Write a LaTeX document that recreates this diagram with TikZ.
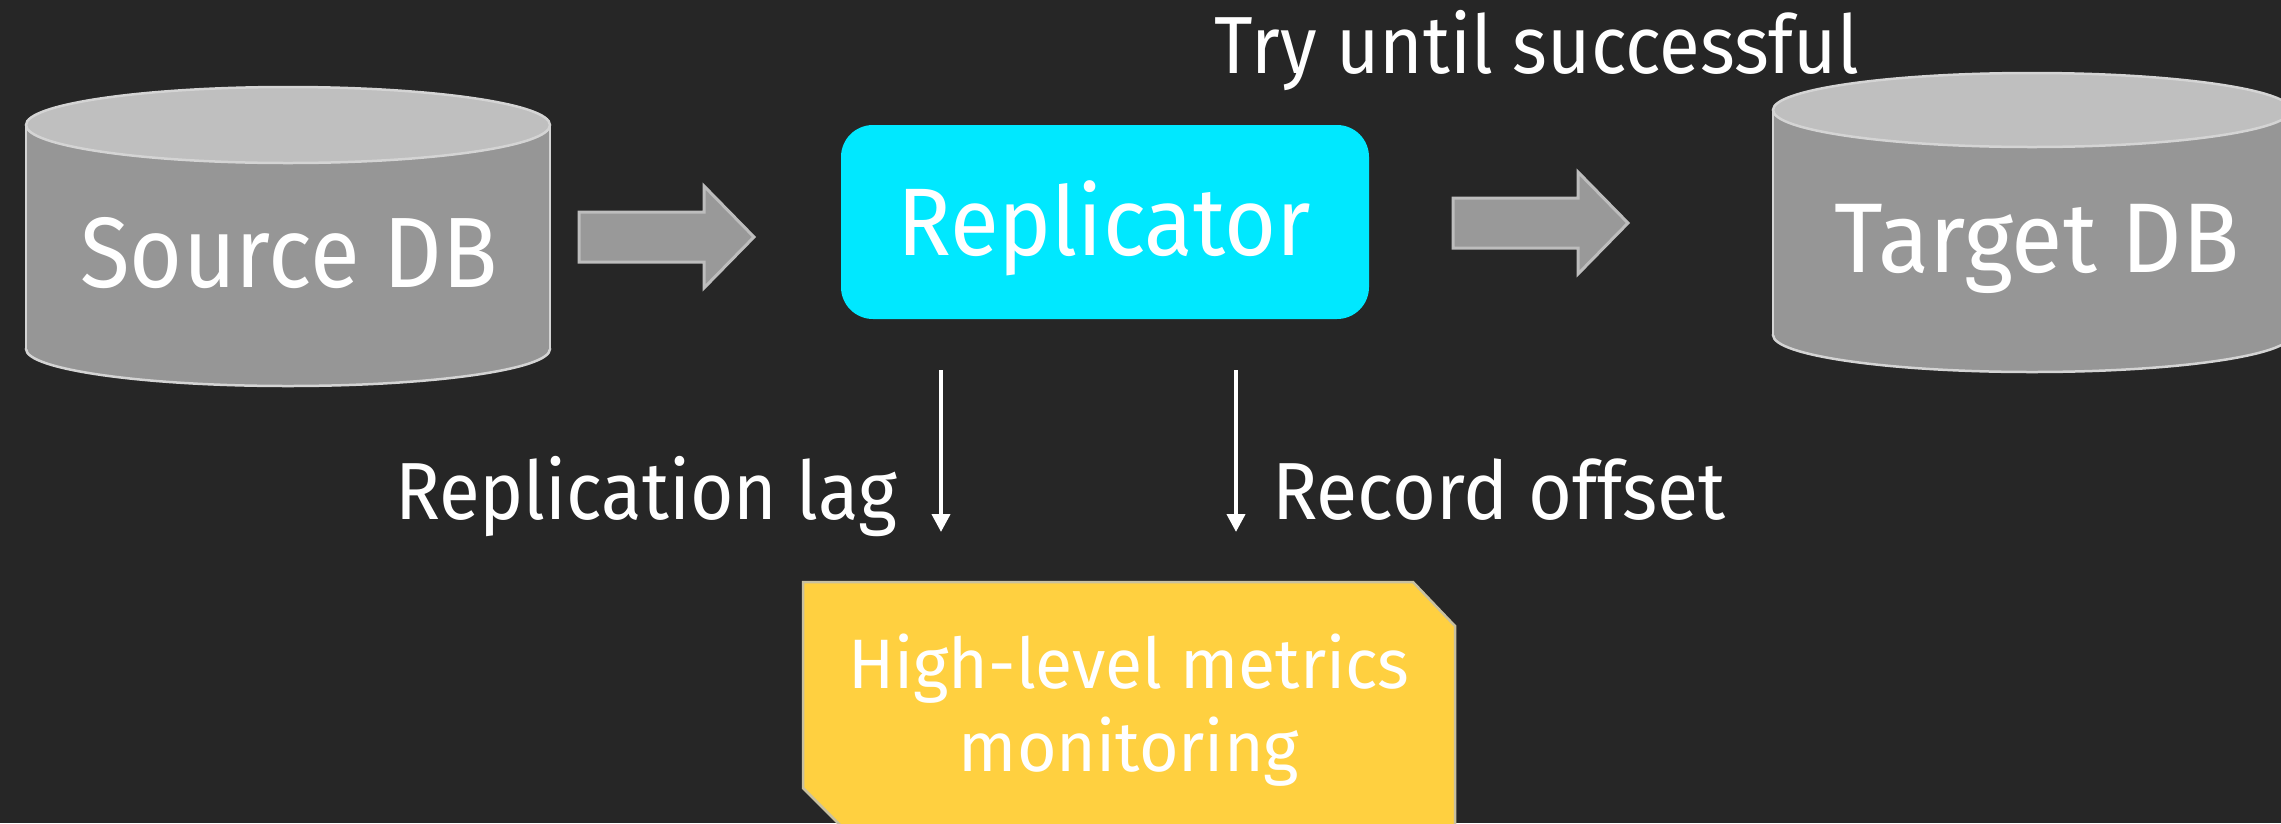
\documentclass[tikz,border=0pt]{standalone}
\usepackage{fontspec}
\setmainfont{Fira Sans}
\usetikzlibrary{arrows.meta}

\definecolor{bgc}{HTML}{262626}
\definecolor{dbbody}{HTML}{969696}
\definecolor{dbtop}{HTML}{BFBFBF}
\definecolor{dbline}{HTML}{D4D4D4}
\definecolor{flowfill}{HTML}{999999}
\definecolor{flowline}{HTML}{BDBDBD}
\definecolor{repfill}{HTML}{00E8FF}
\definecolor{monfill}{HTML}{FFD040}
\definecolor{monline}{HTML}{C8C0A0}

% narrow the lettering a little
\newcommand\hsq[2][0.92]{\scalebox{#1}[1]{#2}}

\tikzset{
  lbl/.style={text=white, inner sep=0pt, anchor=base},
  dbline/.style={draw=dbline, line width=2.5pt},
  flowarrow/.style={fill=flowfill, draw=flowline, line width=3pt, line join=miter},
  thinarrow/.style={draw=white, line width=4pt, -{Triangle[width=18pt,length=18pt]}},
}

\begin{document}
\begin{tikzpicture}[x=1pt,y=-1pt]
\fill[bgc] (0,0) rectangle (2281,823);
\useasboundingbox (0,0) rectangle (2281,823);

% Source database cylinder
\path[dbline, fill=dbbody] (288,349) ellipse (262 and 37);
\fill[dbbody] (26,125) rectangle (550,349);
\draw[dbline] (26,125) -- (26,349) (550,125) -- (550,349);
\path[dbline, fill=dbtop] (288,125) ellipse (262 and 38);
\node[lbl, font=\fontsize{100}{110}\selectfont] (src) at (289,287) {\hsq[0.91]{Source DB}};

% Target database cylinder
\path[dbline, fill=dbbody] (2032,335) ellipse (259 and 37);
\fill[dbbody] (1773,110) rectangle (2291,335);
\draw[dbline] (1773,110) -- (1773,335) (2291,110) -- (2291,335);
\path[dbline, fill=dbtop] (2032,110) ellipse (259 and 37);
\node[lbl, font=\fontsize{99}{110}\selectfont] (tgt) at (2037,272) {\hsq[0.95]{Target DB}};

% Block arrows
\path[flowarrow] (579,212) -- (704,212) -- (704,186) -- (754,237) -- (704,288) -- (704,262) -- (579,262) -- cycle;
\path[flowarrow] (1453,198) -- (1578,198) -- (1578,172) -- (1628,223) -- (1578,274) -- (1578,248) -- (1453,248) -- cycle;

% Replicator
\node[fill=repfill, rounded corners=32pt, minimum width=528pt, minimum height=194pt, inner sep=0pt] (rep) at (1105,222) {};
\node[lbl, font=\fontsize{96}{110}\selectfont] (reptxt) at (1104,255) {\hsq[0.93]{Replicator}};

\node[lbl, font=\fontsize{81}{90}\selectfont] (try) at (1537,73) {\hsq{Try until successful}};

% Metric arrows and labels
\coordinate (lagA) at (941,370);
\coordinate (lagB) at (941,532);
\coordinate (offA) at (1236,370);
\coordinate (offB) at (1236,532);
\draw[thinarrow] (lagA) -- (lagB);
\draw[thinarrow] (offA) -- (offB);
\node[lbl, font=\fontsize{81}{90}\selectfont] (lag) at (646,519) {\hsq{Replication lag}};
\node[lbl, font=\fontsize{81}{90}\selectfont] (off) at (1499,519) {\hsq[0.93]{Record offset}};

% Monitoring box
\path[fill=monfill, draw=monline, line width=2.5pt]
  (803,582) -- (1413,582) -- (1455,626) -- (1455,830) -- (845,830) -- (803,788) -- cycle;
\node[lbl, font=\fontsize{70}{83}\selectfont, align=center] (mon) at (1129,771)
  {\hsq[0.97]{High-level metrics}\\\hsq[0.97]{monitoring}};
\end{tikzpicture}
\end{document}
